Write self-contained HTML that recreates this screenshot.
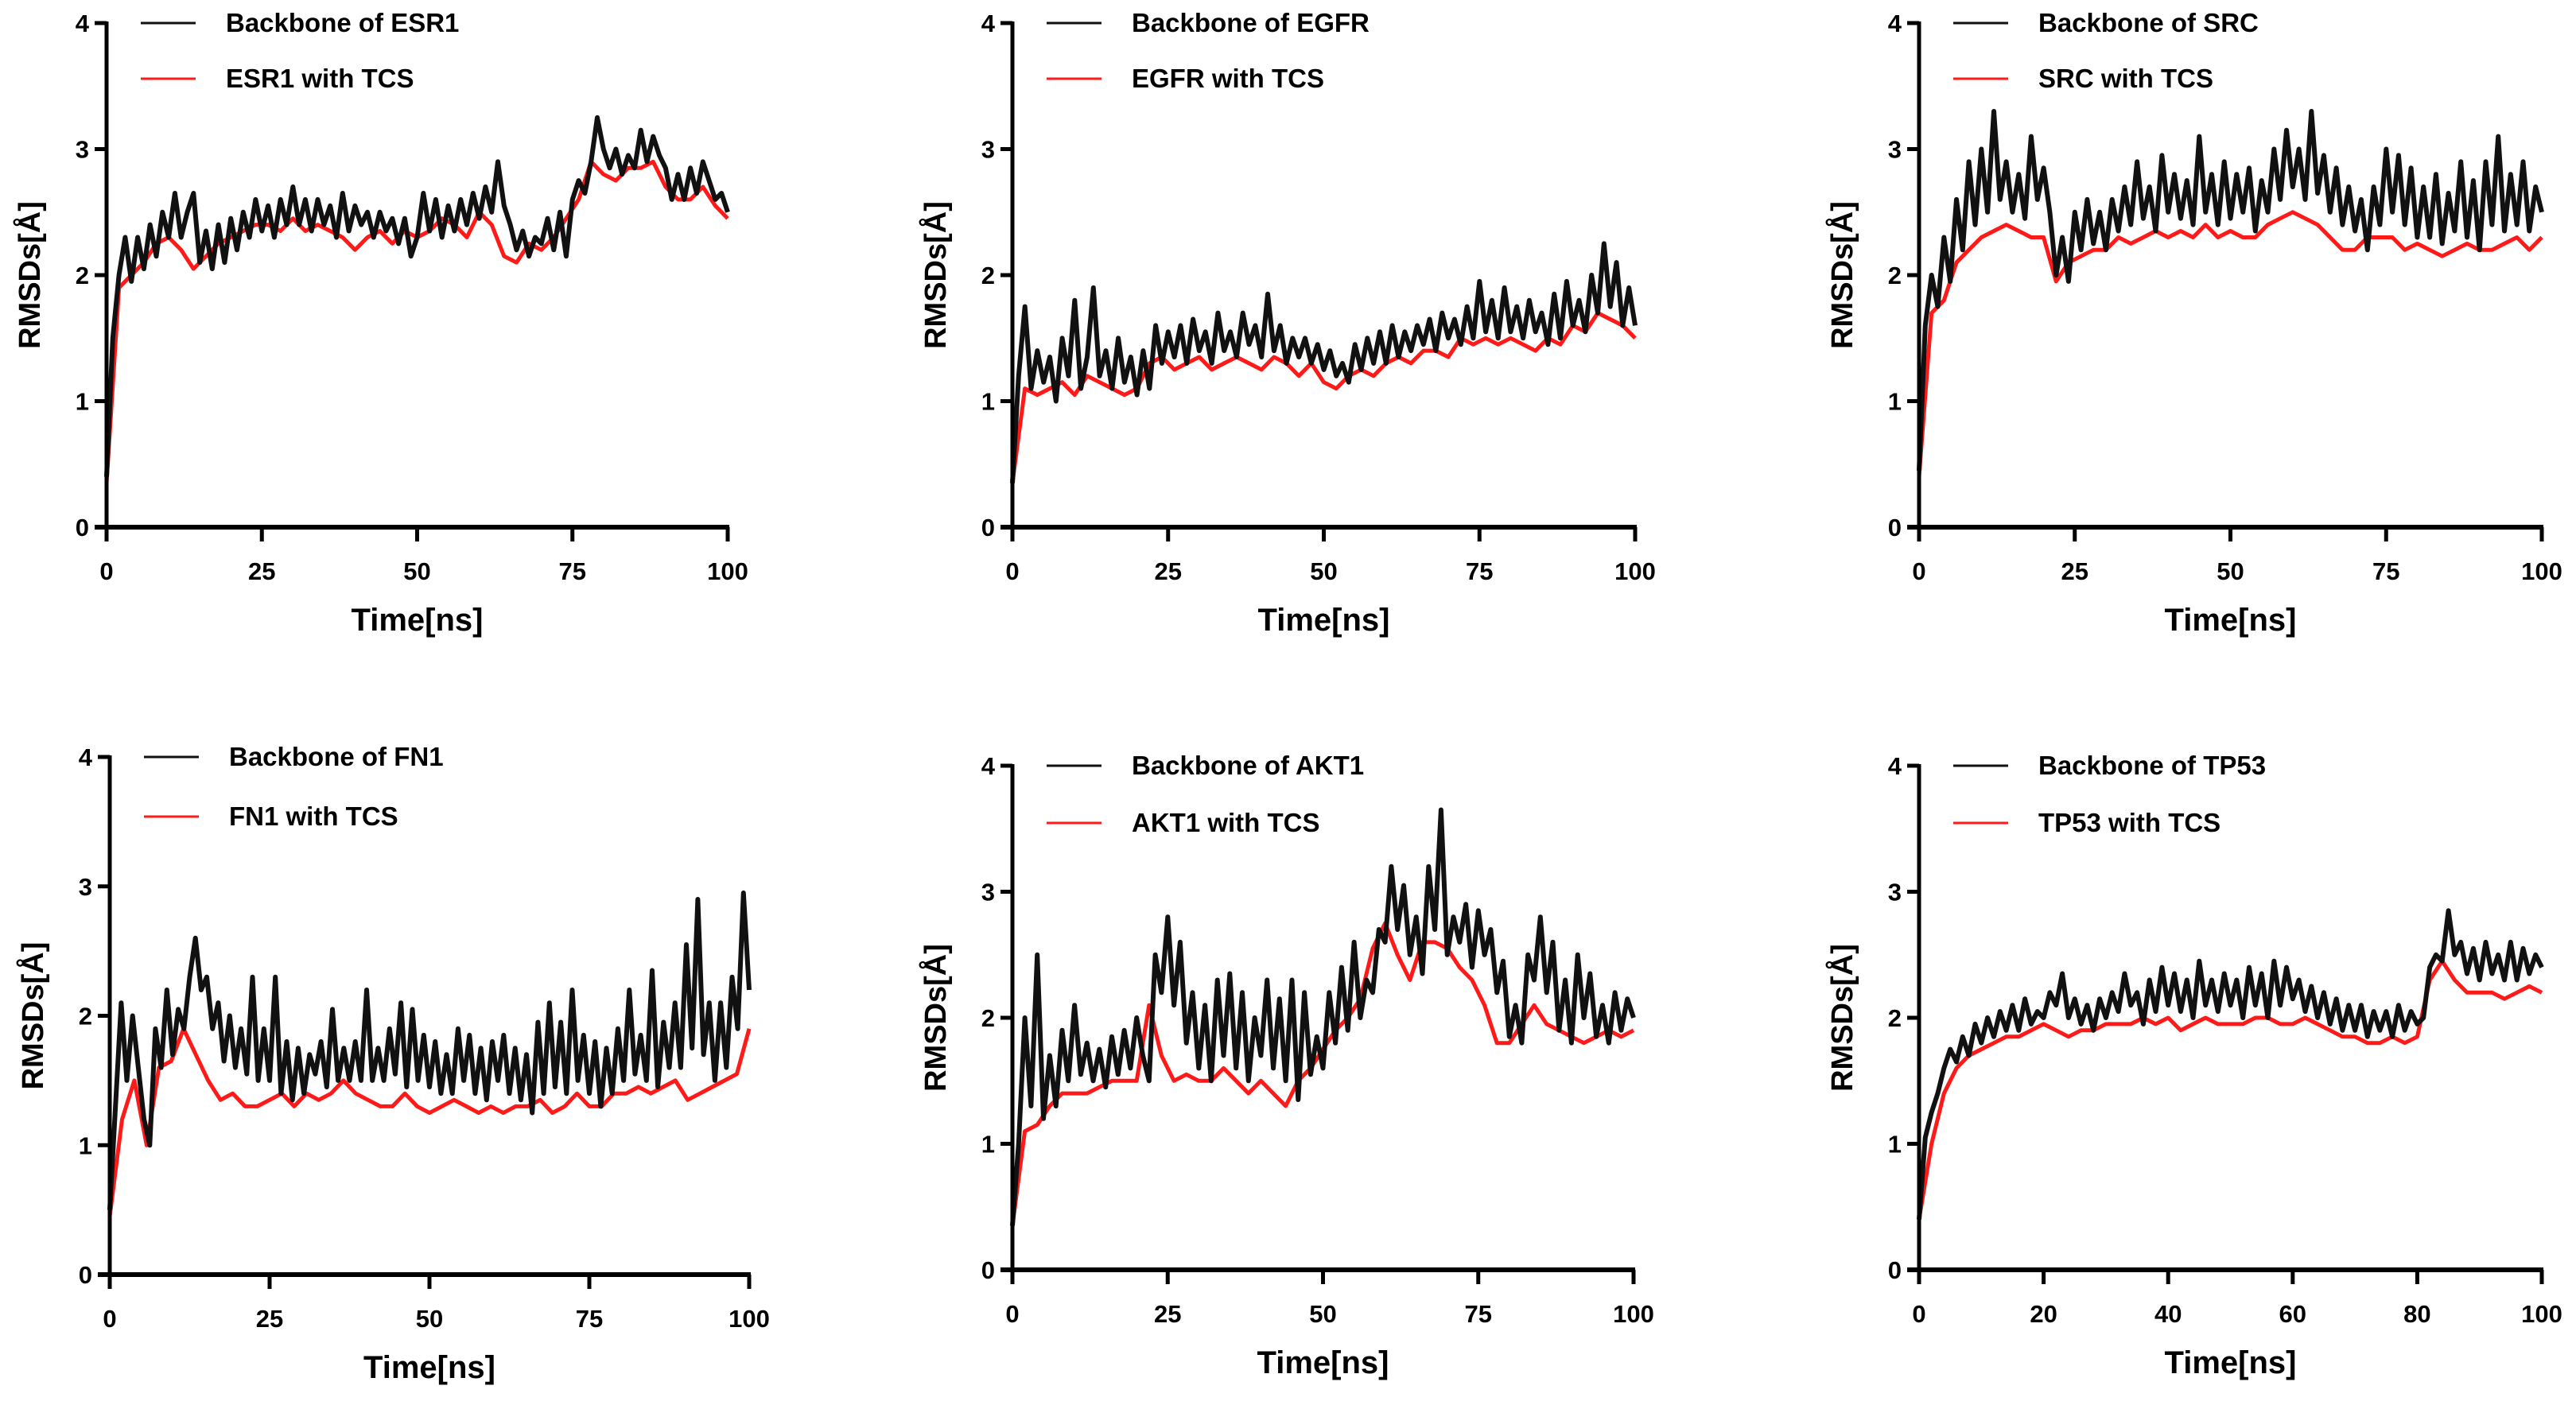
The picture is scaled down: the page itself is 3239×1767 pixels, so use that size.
<!DOCTYPE html>
<html><head><meta charset="utf-8">
<style>
html,body{margin:0;padding:0;background:#fff;}
svg{display:block;font-family:"Liberation Sans",Arial,sans-serif;font-weight:bold;}
</style></head>
<body>
<svg id="chart" width="3239" height="1767" viewBox="0 0 3239 1767" xmlns="http://www.w3.org/2000/svg"></svg>
<script>
const proteins = ["ESR1","EGFR","SRC","FN1","AKT1","TP53"];
const yTicks = [0,1,2,3,4];
const xTicksA = [0,25,50,75,100];
const xTicksB = [0,20,40,60,80,100];

const esr1Backbone = [0.4,1.5,2.0,2.3,1.95,2.3,2.05,2.4,2.15,2.5,2.3,2.65,2.3,2.5,2.65,2.1,2.35,2.05,2.4,2.1,2.45,2.2,2.5,2.3,2.6,2.35,2.55,2.3,2.6,2.4,2.7,2.4,2.6,2.35,2.6,2.4,2.55,2.3,2.65,2.35,2.55,2.4,2.5,2.3,2.5,2.35,2.45,2.25,2.45,2.15,2.3,2.65,2.35,2.6,2.3,2.55,2.35,2.6,2.4,2.65,2.45,2.7,2.5,2.9,2.55,2.4,2.2,2.35,2.15,2.3,2.25,2.45,2.2,2.5,2.15,2.6,2.75,2.65,2.9,3.25,3.0,2.85,3.0,2.8,2.95,2.85,3.15,2.9,3.1,2.95,2.85,2.6,2.8,2.6,2.85,2.65,2.9,2.75,2.6,2.65,2.5];
const esr1Tcs = [0.35,1.9,2.0,2.1,2.25,2.3,2.2,2.05,2.15,2.25,2.3,2.35,2.4,2.4,2.35,2.45,2.35,2.4,2.35,2.3,2.2,2.3,2.35,2.25,2.35,2.3,2.35,2.45,2.4,2.3,2.5,2.4,2.15,2.1,2.25,2.2,2.3,2.45,2.6,2.9,2.8,2.75,2.85,2.85,2.9,2.7,2.6,2.6,2.7,2.55,2.45];
const egfrBackbone = [0.35,1.2,1.75,1.1,1.4,1.15,1.35,1.0,1.5,1.2,1.8,1.1,1.35,1.9,1.2,1.4,1.1,1.5,1.15,1.35,1.05,1.4,1.1,1.6,1.3,1.55,1.35,1.6,1.3,1.65,1.4,1.55,1.3,1.7,1.4,1.55,1.35,1.7,1.45,1.6,1.35,1.85,1.4,1.6,1.3,1.5,1.35,1.5,1.3,1.45,1.25,1.4,1.2,1.3,1.15,1.45,1.25,1.5,1.3,1.55,1.3,1.6,1.35,1.55,1.4,1.6,1.45,1.65,1.4,1.7,1.5,1.65,1.45,1.75,1.5,1.95,1.55,1.8,1.5,1.9,1.55,1.75,1.5,1.8,1.55,1.7,1.45,1.85,1.5,1.95,1.6,1.8,1.55,2.0,1.7,2.25,1.75,2.1,1.6,1.9,1.6];
const egfrTcs = [0.35,1.1,1.05,1.1,1.15,1.05,1.2,1.15,1.1,1.05,1.1,1.3,1.35,1.25,1.3,1.35,1.25,1.3,1.35,1.3,1.25,1.35,1.3,1.2,1.3,1.15,1.1,1.2,1.25,1.2,1.3,1.35,1.3,1.4,1.4,1.35,1.5,1.45,1.5,1.45,1.5,1.45,1.4,1.5,1.45,1.6,1.55,1.7,1.65,1.6,1.5];
const srcBackbone = [0.45,1.6,2.0,1.75,2.3,1.95,2.6,2.2,2.9,2.4,3.0,2.5,3.3,2.6,2.9,2.5,2.8,2.45,3.1,2.6,2.85,2.5,2.0,2.3,1.95,2.5,2.2,2.6,2.25,2.5,2.2,2.6,2.35,2.7,2.4,2.9,2.45,2.7,2.35,2.95,2.5,2.8,2.45,2.75,2.4,3.1,2.5,2.8,2.4,2.9,2.45,2.8,2.5,2.85,2.35,2.75,2.5,3.0,2.6,3.15,2.7,3.0,2.6,3.3,2.65,2.95,2.5,2.85,2.4,2.7,2.35,2.6,2.2,2.7,2.4,3.0,2.5,2.95,2.4,2.85,2.3,2.7,2.3,2.8,2.25,2.65,2.35,2.9,2.3,2.75,2.2,2.9,2.4,3.1,2.35,2.8,2.4,2.9,2.35,2.7,2.5];
const srcTcs = [0.4,1.7,1.8,2.1,2.2,2.3,2.35,2.4,2.35,2.3,2.3,1.95,2.1,2.15,2.2,2.2,2.3,2.25,2.3,2.35,2.3,2.35,2.3,2.4,2.3,2.35,2.3,2.3,2.4,2.45,2.5,2.45,2.4,2.3,2.2,2.2,2.3,2.3,2.3,2.2,2.25,2.2,2.15,2.2,2.25,2.2,2.2,2.25,2.3,2.2,2.3];
const fn1Backbone = [0.5,1.3,2.1,1.5,2.0,1.6,1.2,1.0,1.9,1.6,2.2,1.7,2.05,1.9,2.3,2.6,2.2,2.3,1.9,2.1,1.65,2.0,1.6,1.9,1.55,2.3,1.5,1.9,1.5,2.3,1.4,1.8,1.35,1.75,1.4,1.7,1.55,1.8,1.45,2.05,1.5,1.75,1.5,1.8,1.5,2.2,1.5,1.75,1.5,1.9,1.55,2.1,1.45,2.05,1.5,1.85,1.45,1.8,1.4,1.7,1.4,1.9,1.5,1.85,1.4,1.75,1.35,1.8,1.5,1.85,1.4,1.75,1.35,1.7,1.25,1.95,1.4,2.1,1.45,1.95,1.4,2.2,1.5,1.85,1.4,1.8,1.3,1.75,1.4,1.9,1.5,2.2,1.55,1.85,1.5,2.35,1.45,1.95,1.6,2.1,1.6,2.55,1.75,2.9,1.7,2.1,1.5,2.1,1.6,2.3,1.9,2.95,2.2];
const fn1Tcs = [0.45,1.2,1.5,1.0,1.6,1.65,1.9,1.7,1.5,1.35,1.4,1.3,1.3,1.35,1.4,1.3,1.4,1.35,1.4,1.5,1.4,1.35,1.3,1.3,1.4,1.3,1.25,1.3,1.35,1.3,1.25,1.3,1.25,1.3,1.3,1.35,1.25,1.3,1.4,1.3,1.3,1.4,1.4,1.45,1.4,1.45,1.5,1.35,1.4,1.45,1.5,1.55,1.9];
const akt1Backbone = [0.35,1.0,2.0,1.3,2.5,1.2,1.7,1.3,1.9,1.5,2.1,1.55,1.8,1.5,1.75,1.45,1.85,1.55,1.9,1.6,2.0,1.7,1.5,2.5,2.2,2.8,2.1,2.6,1.8,2.2,1.6,2.1,1.5,2.3,1.7,2.35,1.6,2.2,1.5,2.0,1.7,2.3,1.6,2.15,1.5,2.3,1.35,2.2,1.55,1.85,1.6,2.2,1.8,2.4,1.9,2.6,2.0,2.3,2.2,2.7,2.6,3.2,2.7,3.05,2.5,2.8,2.35,3.2,2.7,3.65,2.5,2.8,2.6,2.9,2.4,2.85,2.5,2.7,2.2,2.45,1.85,2.1,1.8,2.5,2.3,2.8,2.2,2.6,1.9,2.3,1.8,2.5,2.0,2.35,1.85,2.1,1.8,2.2,1.9,2.15,2.0];
const akt1Tcs = [0.35,1.1,1.15,1.3,1.4,1.4,1.4,1.45,1.5,1.5,1.5,2.1,1.7,1.5,1.55,1.5,1.5,1.6,1.5,1.4,1.5,1.4,1.3,1.5,1.6,1.75,1.9,2.0,2.15,2.55,2.75,2.5,2.3,2.6,2.6,2.55,2.4,2.3,2.1,1.8,1.8,1.95,2.1,1.95,1.9,1.85,1.8,1.85,1.9,1.85,1.9];
const tp53Backbone = [0.4,1.05,1.25,1.4,1.6,1.75,1.65,1.85,1.7,1.95,1.8,2.0,1.85,2.05,1.9,2.1,1.9,2.15,1.95,2.05,2.0,2.2,2.1,2.35,2.0,2.15,1.95,2.1,1.9,2.15,2.0,2.2,2.05,2.35,2.1,2.2,1.95,2.3,2.05,2.4,2.1,2.35,2.05,2.3,2.0,2.45,2.1,2.3,2.05,2.35,2.1,2.3,2.0,2.4,2.1,2.35,2.0,2.45,2.1,2.4,2.15,2.3,2.05,2.25,2.0,2.2,1.95,2.15,1.9,2.1,1.9,2.1,1.85,2.05,1.9,2.05,1.85,2.1,1.9,2.05,1.95,2.0,2.4,2.5,2.45,2.85,2.5,2.6,2.35,2.55,2.3,2.6,2.35,2.5,2.3,2.6,2.3,2.55,2.35,2.5,2.4];
const tp53Tcs = [0.4,1.0,1.4,1.6,1.7,1.75,1.8,1.85,1.85,1.9,1.95,1.9,1.85,1.9,1.9,1.95,1.95,1.95,2.0,1.95,2.0,1.9,1.95,2.0,1.95,1.95,1.95,2.0,2.0,1.95,1.95,2.0,1.95,1.9,1.85,1.85,1.8,1.8,1.85,1.8,1.85,2.3,2.45,2.3,2.2,2.2,2.2,2.15,2.2,2.25,2.2];

const backboneSeries = [esr1Backbone,egfrBackbone,srcBackbone,fn1Backbone,akt1Backbone,tp53Backbone];
const tcsSeries = [esr1Tcs,egfrTcs,srcTcs,fn1Tcs,akt1Tcs,tp53Tcs];

const layout = [
 {x0:134,x1:915,y0:663,y4:29,leg:[29,99],xt:xTicksA},
 {x0:1273,x1:2056,y0:663,y4:29,leg:[29,99],xt:xTicksA},
 {x0:2413,x1:3196,y0:663,y4:29,leg:[29,99],xt:xTicksA},
 {x0:138,x1:942,y0:1603,y4:952,leg:[952,1027],xt:xTicksA},
 {x0:1273,x1:2054,y0:1597,y4:963,leg:[963,1035],xt:xTicksA},
 {x0:2413,x1:3196,y0:1597,y4:963,leg:[963,1035],xt:xTicksB}
];
const NS="http://www.w3.org/2000/svg";
const svg=document.getElementById('chart');
function mk(tag,attrs,parent){const e=document.createElementNS(NS,tag);for(const k in attrs)e.setAttribute(k,attrs[k]);(parent||svg).appendChild(e);return e;}

layout.forEach((L,p)=>{
  const g=mk('g',{});
  
  
  const xs=v=>L.x0+(L.x1-L.x0)*v/100;
  const ys=v=>L.y0-(L.y0-L.y4)*v/4;
  const mkLine=(arr,color,w,name)=>{
    const n=arr.length;
    const d=arr.map((v,i)=>(i?'L':'M')+xs(i/(n-1)*100).toFixed(1)+' '+ys(v).toFixed(1)).join(' ');
    const pth=mk('path',{d:d,fill:'none',stroke:color,'stroke-width':w,'stroke-linejoin':'round'},g);
    
    
  };
  mkLine(tcsSeries[p],'#ff1a1a',5,'series-'+proteins[p].toLowerCase()+'-with-tcs');
  mkLine(backboneSeries[p],'#111',6,'series-backbone-'+proteins[p].toLowerCase());
  const ya=mk('line',{x1:L.x0,y1:L.y4-2,x2:L.x0,y2:L.y0+18,stroke:'#000','stroke-width':5},g);
  
  
  const xa=mk('line',{x1:L.x0-15,y1:L.y0,x2:L.x1+2,y2:L.y0,stroke:'#000','stroke-width':6},g);
  
  
  yTicks.forEach(t=>{
    const tk=mk('line',{x1:L.x0-15,y1:ys(t),x2:L.x0,y2:ys(t),stroke:'#000','stroke-width':5},g);
    
    
    const lb=mk('text',{x:L.x0-22,y:ys(t)+11,'text-anchor':'end','font-size':31},g);
    lb.textContent=t;
    
    
  });
  L.xt.forEach(t=>{
    const tk=mk('line',{x1:xs(t),y1:L.y0,x2:xs(t),y2:L.y0+18,stroke:'#000','stroke-width':5},g);
    
    
    const lb=mk('text',{x:xs(t),y:L.y0+66,'text-anchor':'middle','font-size':31},g);
    lb.textContent=t;
    
    
  });
  const xt=mk('text',{x:(L.x0+L.x1)/2,y:L.y0+130,'text-anchor':'middle','font-size':40},g);
  xt.textContent='Time[ns]';
  
  
  const cy=(L.y0+L.y4)/2;
  const yt=mk('text',{x:L.x0-84,y:cy,'text-anchor':'middle','font-size':38,transform:`rotate(-90 ${L.x0-84} ${cy})`},g);
  yt.textContent='RMSDs[Å]';
  
  
  const labels=['Backbone of '+proteins[p],proteins[p]+' with TCS'];
  const cols=['#111','#ff1a1a'];
  labels.forEach((txt,i)=>{
    const ly=L.leg[i];
    const ll=mk('line',{x1:L.x0+43,y1:ly,x2:L.x0+112,y2:ly,stroke:cols[i],'stroke-width':3},g);
    
    
    const lt=mk('text',{x:L.x0+150,y:ly+11,'font-size':33},g);
    lt.textContent=txt;
    
    
  });
});
</script>
</body></html>
